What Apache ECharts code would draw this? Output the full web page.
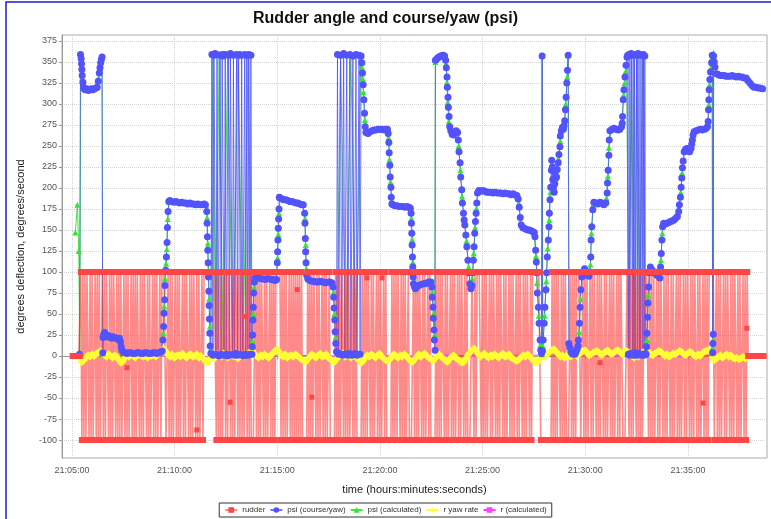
<!DOCTYPE html>
<html><head><meta charset="utf-8">
<script src="https://cdn.jsdelivr.net/npm/echarts@6/dist/echarts.min.js"></script>
<style>html,body{margin:0;padding:0;background:#fff}#c{width:771px;height:519px}</style>
</head><body><div id="c"></div>
<script>
// ---- axis ticks ----
const xTickValues = [300, 600, 900, 1200, 1500, 1800, 2100]; // seconds after 21:00:00
const yTickValues = [-100, -75, -50, -25, 0, 25, 50, 75, 100, 125, 150, 175, 200, 225, 250, 275, 300, 325, 350, 375];

// ---- rudder: one code per sample (H = +100, L = -100, Z = 0) ----
const rudderStart = 302, rudderStep = 3;
const rudderLevels = { H: 100, L: -100, Z: 0 };
const rudderRuns = [
  "ZZZZZZZZ",
  "HLHLHLH","HLHLHL","LHLHLHL","LHLHLH","HLHLHLH","HLHLHLHL","LHLHLHL","LHLHLHLH","HLHLHLH","HLHLHL","LHLHLHL","LHLH",
  "HHHLL",
  "HLHLHL","LHLHLHL","LHLHLH","HLHLHLH","HLHLHL","LHLH",
  "HHHHHHHHHHH",
  "LHLHLHL","LHLHLH","HLHLHLH","HLHLHLHL","LHLHLHL",
  "LLL",
  "HLHLHLH","HLHLHL","LHLHLHL",
  "HHHHH",
  "LHLHLHL","LHLHLH","LHLHLHLH",
  "LLLLL",
  "HLHLHLH","HLHLHL","LHLHLHL","LHL",
  "LLLL",
  "HLHLHLH","HLHLHLHL","LHLHLHL",
  "LLLL",
  "HLHLHLH","HLHLHL","LHLHLHL","LHLHL",
  "LLLL",
  "HLHLHLH","HLHLHLHL","LH",
  "LLLL",
  "HLHLHLH","HLHLHL","LHLHL",
  "LLLL",
  "HLHLHLH","HLHLHL","LHLHLHL","LHLHLH","HLHLH",
  "LLLLH",
  "HLHL",
  "HHHH",
  "LHLHLHL","LHLHLH","HLHLHLH","HLHLHL","LHLHLHL","LHLHLH","HLHLHLH","HLHL",
  "HHHHHHHH",
  "LLLLLLLLLLL",
  "HLHLHLH","HLHLHLH",
  "LLLL",
  "HLHLHL",
  "HHHHL",
  "LHLHLHL","LHLHLH","HLHLHLH","HLHLHL","LHLHLHL","LHLHLH","H",
  "LLLLH",
  "HLHLHLH","HLHLHLHL","L",
  "HHHH",
  "LHLHLHL","LHLHLH","HLHLHLH","HLHLHL","LHLHLHL","LHLHLH","HLHLHLH","HLHLHL","LHLHLHLH",
  "HHHHL",
  "LHLHLHL","LHLHLH","HLHLHLH","HLHLHL","LHLHLH",
  "ZZZZZZZZZZZZZZZZ"
];
const rudderStray = [[461,-14],[665,-88],[762,-55],[806,47],[958,79],[1001,-49],[1162,93],[1206,93],[1843,-8],[2144,-56],[2272,33]];

// ---- psi (course/yaw) [seconds after 21:00:00, degrees] ----
const psi = [
[322,2],[325,359],[327,354],[328,348],[329,341],[330,334],[332,326],[334,320],[336,318],[339,317],[344,318],[348,316],[353,317],[357,318],[361,317],[366,318],[370,319],[374,320],[377,327],[380,337],[382,343],[384,349],[386,353],[388,356],
[390,4],[391,22],[393,26],[396,28],[399,25],[404,23],[408,24],[412,22],[417,21],[421,23],[426,22],[430,21],[434,20],[439,21],[442,17],[444,11],[446,7],
[449,5],[455,4],[461,3],[466,4],[472,4],[478,3],[484,3],[490,4],[496,4],[502,3],[507,3],[513,4],[519,4],[525,3],[531,3],[537,4],[543,4],[548,3],[554,4],[560,5],[564,6],
[566,19],[568,35],[569,51],[571,67],[572,84],[574,102],[576,118],[578,135],[579,153],[581,172],[583,184],
[586,185],[592,184],[598,183],[604,184],[609,183],[615,182],[621,183],[627,182],[633,182],[639,181],[645,182],[650,181],[656,181],[662,180],[668,181],[674,180],[680,180],[686,181],[690,180],
[694,172],[695,158],[696,142],[697,126],[698,111],[699,94],[700,77],[701,60],[702,44],[703,27],[704,12],[706,3],
[709,359],[712,1],[715,358],[718,360],[721,2],[724,359],[727,1],[730,0],[733,358],[736,2],[739,359],[742,357],[745,1],[748,359],[751,2],[754,0],[757,358],[760,1],[763,360],[766,359],[769,2],[772,358],[775,1],[778,3],[781,359],[784,1],[787,358],[790,359],[793,2],[796,358],[799,1],[802,0],[805,359],[808,2],[811,358],[814,1],[817,359],[820,2],[823,358],[826,2],
[827,11],[828,25],[829,43],[830,58],[831,75],[833,88],
[835,93],[840,94],[846,93],[852,92],[858,92],[864,91],[870,92],[876,92],[882,91],[888,91],[893,90],[898,91],
[900,111],[901,124],[902,138],[903,152],[904,163],[905,175],[906,189],
[908,188],[914,187],[919,186],[925,186],[931,185],[937,184],[943,184],[949,183],[955,182],[960,182],[966,181],[972,180],[976,180],
[980,170],[981,158],[982,140],[983,124],[984,111],[986,96],
[989,92],[995,90],[1001,89],[1007,89],[1013,88],[1019,88],[1025,89],[1031,88],[1036,88],[1042,87],[1048,88],[1054,88],[1060,87],
[1063,82],[1065,70],[1066,57],[1068,43],[1069,29],[1071,15],[1073,5],
[1076,359],[1079,2],[1082,3],[1085,358],[1088,2],[1091,1],[1094,360],[1097,2],[1100,2],[1103,358],[1106,1],[1109,3],[1112,359],[1115,2],[1118,1],[1121,357],[1124,2],[1127,3],[1130,359],[1133,1],[1136,2],[1139,358],[1142,2],[1145,357],
[1147,349],[1149,337],[1151,323],[1153,305],[1155,289],[1157,273],
[1159,266],[1165,265],[1171,267],[1177,268],[1182,269],[1188,269],[1194,270],[1200,270],[1206,270],[1212,269],[1218,270],[1222,270],
[1224,265],[1226,254],[1227,242],[1229,227],[1230,213],[1232,201],[1233,189],[1235,181],
[1238,180],[1244,179],[1250,179],[1256,178],[1261,178],[1267,178],[1273,177],[1279,178],[1285,177],[1289,176],
[1291,170],[1292,158],[1293,146],[1294,132],[1295,118],[1296,106],[1297,94],
[1298,86],[1301,82],[1304,80],[1308,83],[1314,84],[1320,85],[1326,86],[1332,86],[1337,87],[1343,88],[1349,88],
[1352,82],[1353,70],[1355,58],[1356,45],[1358,31],[1359,19],[1361,7],
[1362,352],[1365,353],[1369,355],[1373,356],[1377,357],[1381,357],[1385,358],[1389,357],
[1392,352],[1394,343],[1396,332],[1397,320],[1399,308],[1400,296],[1402,285],[1404,273],
[1407,268],[1411,264],[1415,263],[1419,266],[1423,268],[1427,266],
[1429,257],[1431,243],[1434,230],[1436,213],[1439,198],[1441,182],[1444,170],[1446,162],[1448,156],[1451,144],[1454,130],[1457,114],[1460,99],[1463,86],[1466,80],
[1469,84],[1471,99],[1473,114],[1475,130],[1477,146],[1479,160],[1481,170],[1483,182],[1485,194],
[1489,197],[1495,196],[1501,197],[1507,196],[1512,195],[1518,195],[1524,195],[1530,194],[1536,195],[1542,194],[1548,194],[1553,194],[1559,193],[1565,194],[1571,193],[1577,193],[1583,192],[1589,193],[1594,192],[1600,191],
[1604,187],[1607,177],[1610,165],[1613,156],
[1617,153],[1622,152],[1627,151],[1632,150],[1637,150],[1642,149],[1647,148],[1651,147],
[1653,142],[1655,126],[1657,112],[1658,99],[1660,75],[1663,58],[1665,39],[1668,19],[1670,7],[1672,3],
[1674,357],[1675,6],
[1677,19],[1680,39],[1682,58],[1685,79],[1687,99],[1689,118],[1692,138],[1694,154],[1695,170],[1697,186],[1699,201],
[1701,221],[1702,233],[1704,225],[1705,210],[1707,200],[1709,195],[1711,205],[1712,218],[1714,212],[1716,213],[1718,222],[1721,230],[1723,240],[1726,249],[1727,262],[1730,268],[1733,272],[1736,270],[1738,274],[1740,280],[1742,293],[1744,308],[1746,325],[1748,340],[1750,358],
[1752,15],[1755,10],[1758,5],[1761,3],[1764,2],[1767,4],[1770,2],[1773,5],[1776,8],[1779,12],
[1780,19],[1783,39],[1785,58],[1787,79],[1790,94],[1794,100],[1798,104],[1802,99],[1807,96],[1811,95],[1814,100],[1816,118],[1817,138],[1819,154],[1822,174],
[1825,183],[1831,182],[1837,181],[1843,183],[1849,182],[1854,180],[1860,182],
[1864,194],[1865,206],[1867,221],[1869,239],[1870,257],
[1872,268],[1878,270],[1884,271],[1890,270],[1896,269],[1901,270],[1906,273],
[1908,277],[1909,285],[1911,305],[1913,317],[1916,332],[1919,346],[1922,356],
[1924,358],[1926,2],[1928,359],[1930,1],[1932,3],[1934,360],[1936,358],[1938,2],[1940,359],[1942,1],[1944,358],[1946,4],[1948,2],[1950,359],[1952,1],[1954,360],[1956,358],[1958,3],[1960,359],[1962,2],[1964,1],[1966,358],[1968,2],[1970,359],[1972,1],[1974,357],[1976,3],[1978,2],
[1979,11],[1980,27],[1982,46],[1983,63],[1985,82],[1987,99],
[1990,106],[1994,103],[1998,101],[2002,99],[2006,98],[2010,96],[2014,95],[2018,93],
[2020,106],[2022,122],[2024,138],[2026,154],
[2029,158],[2034,157],[2039,158],[2044,159],[2049,160],[2054,161],[2059,162],[2064,164],[2069,166],
[2073,172],[2075,180],[2078,189],[2080,201],[2082,212],[2084,224],[2086,232],
[2089,243],[2093,246],[2097,247],[2101,244],[2105,243],[2109,247],[2111,252],
[2113,257],[2115,263],
[2118,267],[2124,268],[2130,269],[2136,270],[2142,269],[2148,270],[2153,271],[2157,273],
[2159,279],[2160,293],[2161,305],[2162,317],[2164,329],[2166,338],[2169,349],[2171,358],
[2172,4],[2173,15],[2174,26],[2175,357],[2177,350],[2179,344],
[2184,336],[2188,335],[2194,334],[2200,334],[2206,334],[2211,333],[2217,333],[2223,333],[2229,334],[2235,333],[2241,332],[2247,333],[2252,332],[2258,332],[2264,331],[2270,331],
[2275,328],[2281,325],[2287,322],[2293,320],[2299,320],[2305,319],[2310,319],[2318,318]
];

// ---- psi (calculated) ----
const psiCalc = [
[310,147],[316,180],[320,125],[323,3],[326,357],[329,344],[331,331],[334,319],[345,317],[360,318],[373,320],[378,331],[381,340],[385,351],[388,356],[390,3],[392,24],[405,23],[420,22],[436,21],[443,14],[447,5],[480,4],[520,4],[560,4],[567,27],[570,59],[572,92],[575,110],[577,127],[580,163],[584,184],[620,183],[660,181],[692,180],[695,165],[697,134],[699,102],[701,68],[703,35],[705,8],
[712,359],[720,2],[730,358],[742,1],[755,359],[770,2],[785,358],[800,1],[815,359],[826,2],
[828,18],[830,50],[832,82],[845,93],[870,92],[897,91],[901,117],[903,145],[905,170],[908,188],[940,184],[975,180],[981,164],[983,132],[985,104],[990,91],[1025,88],[1060,87],[1064,76],[1067,50],[1070,22],[1074,4],
[1085,358],[1100,2],[1115,359],[1130,2],[1144,358],[1148,343],[1150,330],[1152,314],[1156,281],[1165,266],[1195,270],[1222,269],[1225,260],[1228,234],[1231,207],[1234,185],[1260,178],[1289,176],[1292,164],[1294,139],[1296,112],[1298,90],[1310,83],[1330,86],[1350,88],[1354,76],[1357,51],[1360,25],[1362,350],[1380,357],[1393,348],[1396,326],[1398,302],[1401,279],[1410,265],[1426,266],[1430,250],[1435,221],[1440,190],[1447,159],[1453,137],[1459,106],[1465,82],[1470,92],[1474,122],[1478,153],[1482,176],[1486,195],[1530,194],[1600,191],[1606,182],[1611,160],[1620,152],[1650,147],[1656,119],[1659,87],[1664,48],[1669,13],[1673,2],[1674,358],[1676,12],[1681,48],[1686,89],[1690,128],[1695,162],[1698,195],[1703,229],[1708,198],[1713,215],[1722,235],[1727,256],[1732,271],[1739,277],[1743,300],[1747,332],[1750,358],[1753,12],[1765,3],[1778,10],[1782,29],[1786,68],[1791,97],[1805,98],[1815,109],[1818,146],[1823,180],[1845,182],[1862,188],[1866,214],[1869,248],[1875,269],[1900,270],[1908,281],[1912,311],[1915,325],[1918,339],[1921,356],
[1927,2],[1935,359],[1943,1],[1951,358],[1959,2],[1967,359],[1975,2],[1980,19],[1984,72],[1988,100],[2005,98],[2018,93],[2021,114],[2025,146],[2030,158],[2050,160],[2070,166],[2074,176],[2079,195],[2083,218],[2090,244],[2110,250],[2114,260],[2120,268],[2150,270],[2158,276],[2161,299],[2163,323],[2167,343],[2171,356],[2172,10],[2174,20],[2175,361],[2178,347],[2183,336],[2230,333],[2270,331],[2290,321],[2318,318]
];

// ---- r yaw rate: one value per sample ----
const yawStart = 317, yawStep = 6;
const yawRate = [
0,-3,-7,-5,-2,1,-1,2,0,3,4,6,4,1,-1,2,0,-2,1,-1,
-5,-8,-6,-2,1,-1,2,0,-2,1,3,0,-1,2,-2,1,0,2,-1,3,
4,7,8,5,1,-1,2,-2,0,1,-1,3,0,-2,1,2,-1,0,2,-2,
0,-3,-6,-8,-5,-1,1,-2,2,0,-1,3,1,-2,0,2,-1,1,-3,0,
2,-1,1,3,5,6,3,0,-2,1,-1,2,0,-2,1,3,6,8,5,1,
-1,2,-2,0,1,-1,2,0,-2,-4,-6,-7,-4,-1,2,0,-2,1,3,-1,
0,2,-2,-4,-6,-7,-4,-1,1,3,-1,0,2,-2,1,0,-3,-5,-8,-6,
-2,1,-1,2,0,-2,1,3,-1,-3,-5,-6,-4,-1,2,0,-2,1,-1,2,
0,-3,-6,-7,-4,-1,2,-1,1,3,0,-2,-4,-6,-3,0,2,-1,-3,-5,
-7,-4,-1,1,-2,-4,-6,-8,-7,-3,1,4,7,9,6,2,-1,1,3,0,
-2,1,-1,2,0,-2,1,3,-1,0,2,-2,-3,-5,-6,-4,-1,1,-1,2,
0,-3,-6,-8,-7,-3,2,-1,1,3,5,7,8,5,2,-1,1,-2,0,2,
-1,1,3,0,2,4,6,7,4,1,2,4,5,6,4,1,3,5,7,4,
2,4,6,7,5,2,4,6,5,2,0,-2,1,-1,2,4,6,7,5,2,
1,3,4,6,5,2,0,2,-1,1,3,2,4,6,5,2,1,3,5,4,
1,-1,2,0,3,5,6,7,5,-2,-5,-3,-1,1,-2,0,2,-1,1,-2,
-3,-2,-4,-3,-1,-3,-2
];

// ---- r (calculated) ----
const rCalc = [[318,0],[589,1],[705,-1],[908,1],[1226,-1],[1293,-1],[1396,0],[1469,1],[1688,1],[1819,1],[1886,1],[2077,0],[2170,1],[2273,0]];

// ---- build series data ----
const rudderCodes = rudderRuns.join('');
const rudderData = rudderCodes.split('').map((c, i) => [rudderStart + i * rudderStep, rudderLevels[c]]);
const yawData = yawRate.map((v, i) => [yawStart + i * yawStep, v]);

function fmtTime(t) {
  const m = Math.floor(t / 60), s = Math.round(t % 60);
  return '21:' + String(m).padStart(2, '0') + ':' + String(s).padStart(2, '0');
}

const FONT = 'Liberation Sans';
const C = {
  rudder: '#ff4545', rudderLine: 'rgba(255,60,60,0.6)',
  psi: '#5252ff', psiLine: 'rgba(80,80,255,0.8)',
  psiCalc: '#33e633', psiCalcLine: 'rgba(40,220,40,0.85)',
  yaw: '#ffff33', rCalc: '#ff40ff'
};

function lineSeries(name, data, color, lineColor, symbol, z, width) {
  return { name, type: 'line', data, symbol, showSymbol: false, symbolSize: 6,
    itemStyle: { color }, lineStyle: { color: lineColor, width: width || 1 },
    z, silent: true, animation: false, sampling: null, emphasis: { disabled: true } };
}
function dotSeries(name, data, color, symbol, size, z) {
  return { name, type: 'scatter', data, symbol, symbolSize: size,
    itemStyle: { color, opacity: 1 }, z, silent: true, animation: false, emphasis: { disabled: true } };
}

const chart = echarts.init(document.getElementById('c'), null, { renderer: 'canvas' });
chart.setOption({
  animation: false,
  backgroundColor: '#ffffff',
  textStyle: { fontFamily: FONT },
  title: { text: 'Rudder angle and course/yaw (psi)', left: 'center', top: 6,
    textStyle: { fontFamily: FONT, fontSize: 16, fontWeight: 'bold', color: '#111' } },
  graphic: [{ type: 'rect', shape: { x: 6, y: 2, width: 800, height: 600 },
    style: { fill: 'none', stroke: '#1f1fc8', lineWidth: 1.5 }, silent: true, z: 100 }],
  legend: {
    bottom: 2, left: 'center', itemWidth: 12, itemHeight: 7, itemGap: 4,
    padding: [3, 5], borderColor: '#333', borderWidth: 1, borderRadius: 0,
    textStyle: { fontSize: 8, color: '#333', fontFamily: FONT },
    data: ['rudder', 'psi (course/yaw)', 'psi (calculated)', 'r yaw rate', 'r (calculated)']
  },
  grid: { left: 62, right: 4, top: 35, bottom: 61, show: true, borderColor: '#aaa', borderWidth: 1, backgroundColor: '#fff' },
  xAxis: {
    type: 'value', min: 271, max: 2331,
    name: 'time (hours:minutes:seconds)', nameLocation: 'middle', nameGap: 26,
    nameTextStyle: { fontSize: 11, color: '#222', fontFamily: FONT },
    axisLine: { show: true, lineStyle: { color: '#999' } },
    axisTick: { show: true, customValues: xTickValues, length: 3, lineStyle: { color: '#999' } },
    axisLabel: { customValues: xTickValues, formatter: v => fmtTime(v), fontSize: 9, color: '#555', margin: 8 },
    splitLine: { show: true, lineStyle: { color: '#d4d4d4', type: 'dotted' } }
  },
  yAxis: {
    type: 'value', min: -121.4, max: 382.1,
    name: 'degrees deflection, degrees/second', nameLocation: 'middle', nameGap: 36,
    nameTextStyle: { fontSize: 11, color: '#222', fontFamily: FONT },
    axisLine: { show: true, lineStyle: { color: '#999' } },
    axisTick: { show: true, customValues: yTickValues, length: 3, lineStyle: { color: '#999' } },
    axisLabel: { customValues: yTickValues, fontSize: 9, color: '#555', margin: 5 },
    splitLine: { show: true, lineStyle: { color: '#d4d4d4', type: 'dotted' } }
  },
  series: [
    // lines first (drawn in reverse series order like the original), then all markers
    lineSeries('rudder', rudderData, C.rudder, C.rudderLine, 'rect', 2.5, 1.6),
    lineSeries('r (calculated)', rCalc, C.rCalc, C.rCalc, 'rect', 2),
    lineSeries('r yaw rate', yawData, C.yaw, C.yaw, 'diamond', 2),
    lineSeries('psi (calculated)', psiCalc, C.psiCalc, C.psiCalcLine, 'triangle', 2),
    lineSeries('psi (course/yaw)', psi, C.psi, C.psiLine, 'circle', 2),
    dotSeries('r (calculated)', rCalc, C.rCalc, 'rect', [6, 3], 3),
    dotSeries('r yaw rate', yawData, C.yaw, 'diamond', 8, 3),
    dotSeries('psi (calculated)', psiCalc, C.psiCalc, 'triangle', 6, 3),
    dotSeries('psi (course/yaw)', psi, C.psi, 'circle', 7, 3),
    dotSeries('rudder', rudderData, C.rudder, 'rect', 6, 3),
    dotSeries('rudder', rudderStray, C.rudder, 'rect', 5, 3)
  ]
});
</script>
</body></html>
